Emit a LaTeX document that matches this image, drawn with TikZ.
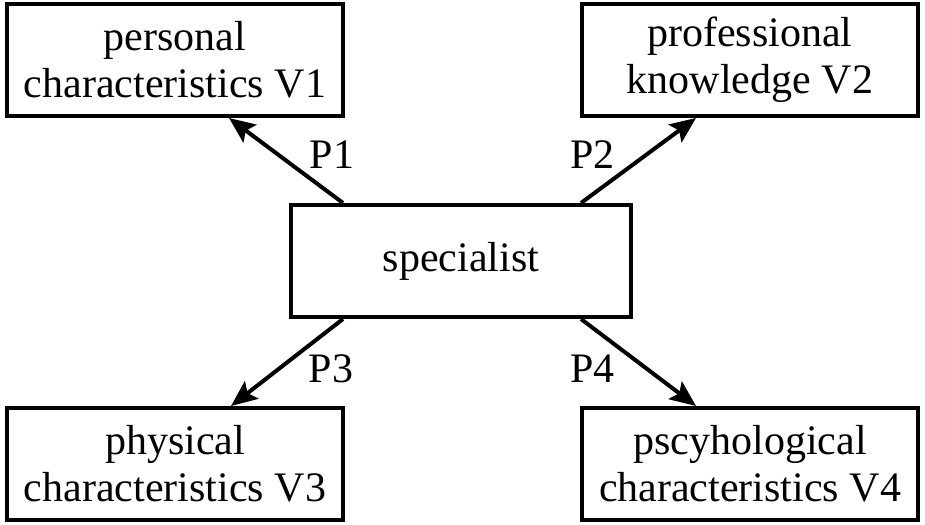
\documentclass[tikz,border=0pt]{standalone}
\usepackage{fontspec}
\setmainfont{Liberation Serif}
\usepackage{tikz}
\usetikzlibrary{arrows.meta}
\tikzset{%
  every box/.style={
    rectangle,
    draw,
    line width=4pt,
    minimum width=336pt,
    minimum height=112pt,
    align=center,
    font=\fontsize{42pt}{47pt}\selectfont
  },
  p label/.style={
    inner sep=0pt,
    font=\fontsize{42pt}{47pt}\selectfont
  },
}

\begin{document}
\begin{tikzpicture}[x=1pt, y=1pt, > = {Stealth[length=26pt, width=22pt, inset=5pt]}]
\useasboundingbox (0,0) rectangle (925,524);
    \node[every box] (personal) at (175,464) {personal\\characteristics V1};
    \node[every box] (professional) at (750,464) {professional\\knowledge V2};
    \node[every box, minimum width=340pt] (specialist) at (461,263) {specialist};
    \node[every box] (physical) at (175,60) {physical\\characteristics V3};
    \node[every box] (psycho) at (750,60) {pscyhological\\characteristics V4};

   \draw[line width=4pt, ->] ([xshift=54pt]specialist.north west) -- ([xshift=-116pt]personal.south east)
        node[p label, pos=0.57, xshift=54pt] (p1) {P1};
   \draw[line width=4pt, ->] ([xshift=-52pt]specialist.north east) -- ([xshift=116pt]professional.south west)
        node[p label, pos=0.57, xshift=-54pt] (p2) {P2};
   \draw[line width=4pt, ->] ([xshift=54pt]specialist.south west) -- ([xshift=-114pt]physical.north east)
        node[p label, pos=0.57, xshift=52pt] (p3) {P3};
   \draw[line width=4pt, ->] ([xshift=-52pt]specialist.south east) -- ([xshift=116pt]psycho.north west)
        node[p label, pos=0.57, xshift=-54pt] (p4) {P4};
\end{tikzpicture}
\end{document}
